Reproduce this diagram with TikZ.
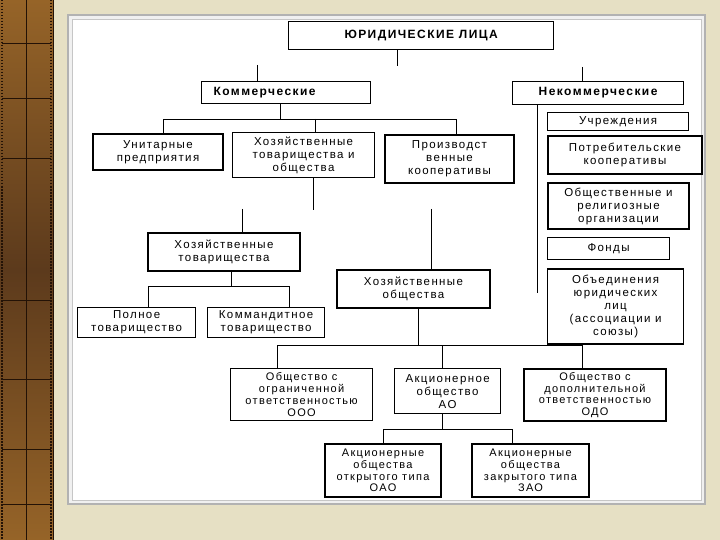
\documentclass[tikz,border=0pt]{standalone}
\usepackage{fontspec}
\newfontfamily\boxfont[LetterSpace=12]{Liberation Sans}
\usetikzlibrary{calc,positioning}
\definecolor{parchment}{RGB}{230,224,196}
\definecolor{bark}{RGB}{92,58,28}
\definecolor{amber}{RGB}{150,100,40}
\definecolor{barkline}{RGB}{35,18,6}

\begin{document}
\begin{tikzpicture}[x=1pt,y=-1pt,
	unit/.style={draw,line width=1.2pt,inner sep=0pt,anchor=north west,align=center,
		font=\boxfont\fontsize{11.5}{13}\selectfont},
	heavy/.style={unit,line width=2pt},
	dense/.style={font=\boxfont\fontsize{11}{11.8}\selectfont},
	head/.style={unit,font=\boxfont\bfseries\fontsize{12}{14}\selectfont},
	link/.style={line width=0.9pt}]
	\useasboundingbox (0,0) rectangle (720,540);
	\fill[parchment] (0,0) rectangle (720,540);

	% left strip
	\shade[top color=amber,bottom color=amber,middle color=bark] (0,0) rectangle (53,540);
	\draw[barkline,line width=0.8pt] (26,0) -- (26,540);
	\foreach \y in {43,98,158,300,379,449,504}
		\draw[barkline,line width=0.8pt] (2,\y) -- (51,\y);
	\draw[barkline,line width=1.5pt,dash pattern=on 1.5pt off 1.5pt] (2,0) -- (2,540);
	\draw[barkline,line width=1.5pt,dash pattern=on 1.5pt off 1.5pt] (51,0) -- (51,540);
	\draw[barkline] (53,0) -- (53,540);

	% panel
	\fill[gray!12] (68,15) rectangle (705,504);
	\draw[gray!60,line width=1.2pt] (68,15) rectangle (705,504);
	\fill[white] (72,19) rectangle (701,500);
	\draw[gray!45] (72,19) rectangle (701,500);

	\node[head, minimum width=265pt, minimum height=28pt] (yl) at (288,21) {ЮРИДИЧЕСКИЕ ЛИЦА};
	\node[head, minimum width=169pt, minimum height=22pt, text width=145pt, align=left, inner xsep=12pt] (kom) at (201,81) {Коммерческие};
	\node[head, minimum width=171pt, minimum height=23pt] (nekom) at (512,81) {Некоммерческие};

	\node[heavy, minimum width=130pt, minimum height=36pt] (unitary) at (92,133) {Унитарные\\предприятия};
	\node[unit, minimum width=142pt, minimum height=45pt] (hozto) at (232,132) {Хозяйственные\\товарищества и\\общества};
	\node[heavy, minimum width=129pt, minimum height=48pt] (proizv) at (384,134) {Производст\\венные\\кооперативы};

	\node[unit, minimum width=141pt, minimum height=18pt] (uchr) at (547,112) {Учреждения};
	\node[heavy, below=4pt of uchr.south west, anchor=north west, minimum width=154pt, minimum height=38pt] (potreb) {Потребительские\\кооперативы};
	\node[heavy, below=7pt of potreb.south west, anchor=north west, minimum width=141pt, minimum height=46pt] (obsch) {Общественные и\\религиозные\\организации};
	\node[unit, below=7pt of obsch.south west, anchor=north west, minimum width=122pt, minimum height=22pt] (fond) {Фонды};
	\node[unit, below=8pt of fond.south west, anchor=north west, minimum width=136pt, minimum height=75pt] (obied) {Объединения\\юридических\\лиц\\(ассоциации и\\союзы)};

	\node[heavy, minimum width=152pt, minimum height=38pt] (hoztov) at (147,232) {Хозяйственные\\товарищества};
	\node[heavy, minimum width=153pt, minimum height=38pt] (hozob) at (336,269) {Хозяйственные\\общества};
	\node[unit, minimum width=118pt, minimum height=30pt] (poln) at (77,307) {Полное\\товарищество};
	\node[unit, minimum width=117pt, minimum height=30pt] (komand) at (207,307) {Коммандитное\\товарищество};

	\node[unit, dense, minimum width=142pt, minimum height=52pt] (ooo) at (230,368) {Общество с\\ограниченной\\ответственностью\\ООО};
	\node[unit, minimum width=106pt, minimum height=45pt] (ao) at (394,368) {Акционерное\\общество\\АО};
	\node[heavy, dense, minimum width=142pt, minimum height=52pt] (odo) at (523,368) {Общество с\\дополнительной\\ответственностью\\ОДО};
	\node[heavy, dense, minimum width=116pt, minimum height=53pt] (oao) at (324,443) {Акционерные\\общества\\открытого типа\\ОАО};
	\node[heavy, dense, minimum width=117pt, minimum height=53pt] (zao) at (471,443) {Акционерные\\общества\\закрытого типа\\ЗАО};

	% stubs
	\coordinate (s1) at (397,66);
	\coordinate (s2) at (257,65);
	\coordinate (s3) at (582,67);
	\coordinate (s4) at (537,293);
	\coordinate (s5) at (313,210);
	\coordinate (s6) at (242,209);
	\coordinate (s7) at (431,209);
	\draw[link] (s1 |- yl.south) -- (s1);
	\draw[link] (s2) -- (s2 |- kom.north);
	\draw[link] (s3) -- (s3 |- nekom.north);
	\draw[link] (s4 |- nekom.south) -- (s4);
	\draw[link] (s5 |- hozto.south) -- (s5);
	\draw[link] (s6) -- (s6 |- hoztov.north);
	\draw[link] (s7) -- (s7 |- hozob.north);

	% buses
	\coordinate (k0) at (280,119);
	\coordinate (k1) at (163,119);
	\coordinate (k2) at (315,119);
	\coordinate (k3) at (456,119);
	\draw[link] (k0 |- kom.south) -- (k0);
	\draw[link] (k1 |- unitary.north) -- (k1) -- (k3) -- (k3 |- proizv.north);
	\draw[link] (k2) -- (k2 |- hozto.north);

	\coordinate (t0) at (231,286);
	\coordinate (t1) at (148,286);
	\coordinate (t2) at (289,286);
	\draw[link] (t0 |- hoztov.south) -- (t0);
	\draw[link] (t1 |- poln.north) -- (t1) -- (t2) -- (t2 |- komand.north);

	\coordinate (b0) at (418,345);
	\coordinate (b1) at (277,345);
	\coordinate (b2) at (442,345);
	\coordinate (b3) at (582,345);
	\draw[link] (b0 |- hozob.south) -- (b0);
	\draw[link] (b1 |- ooo.north) -- (b1) -- (b3) -- (b3 |- odo.north);
	\draw[link] (b2) -- (b2 |- ao.north);

	\coordinate (a0) at (442,429);
	\coordinate (a1) at (383,429);
	\coordinate (a2) at (512,429);
	\draw[link] (a0 |- ao.south) -- (a0);
	\draw[link] (a1 |- oao.north) -- (a1) -- (a2) -- (a2 |- zao.north);
\end{tikzpicture}
\end{document}
